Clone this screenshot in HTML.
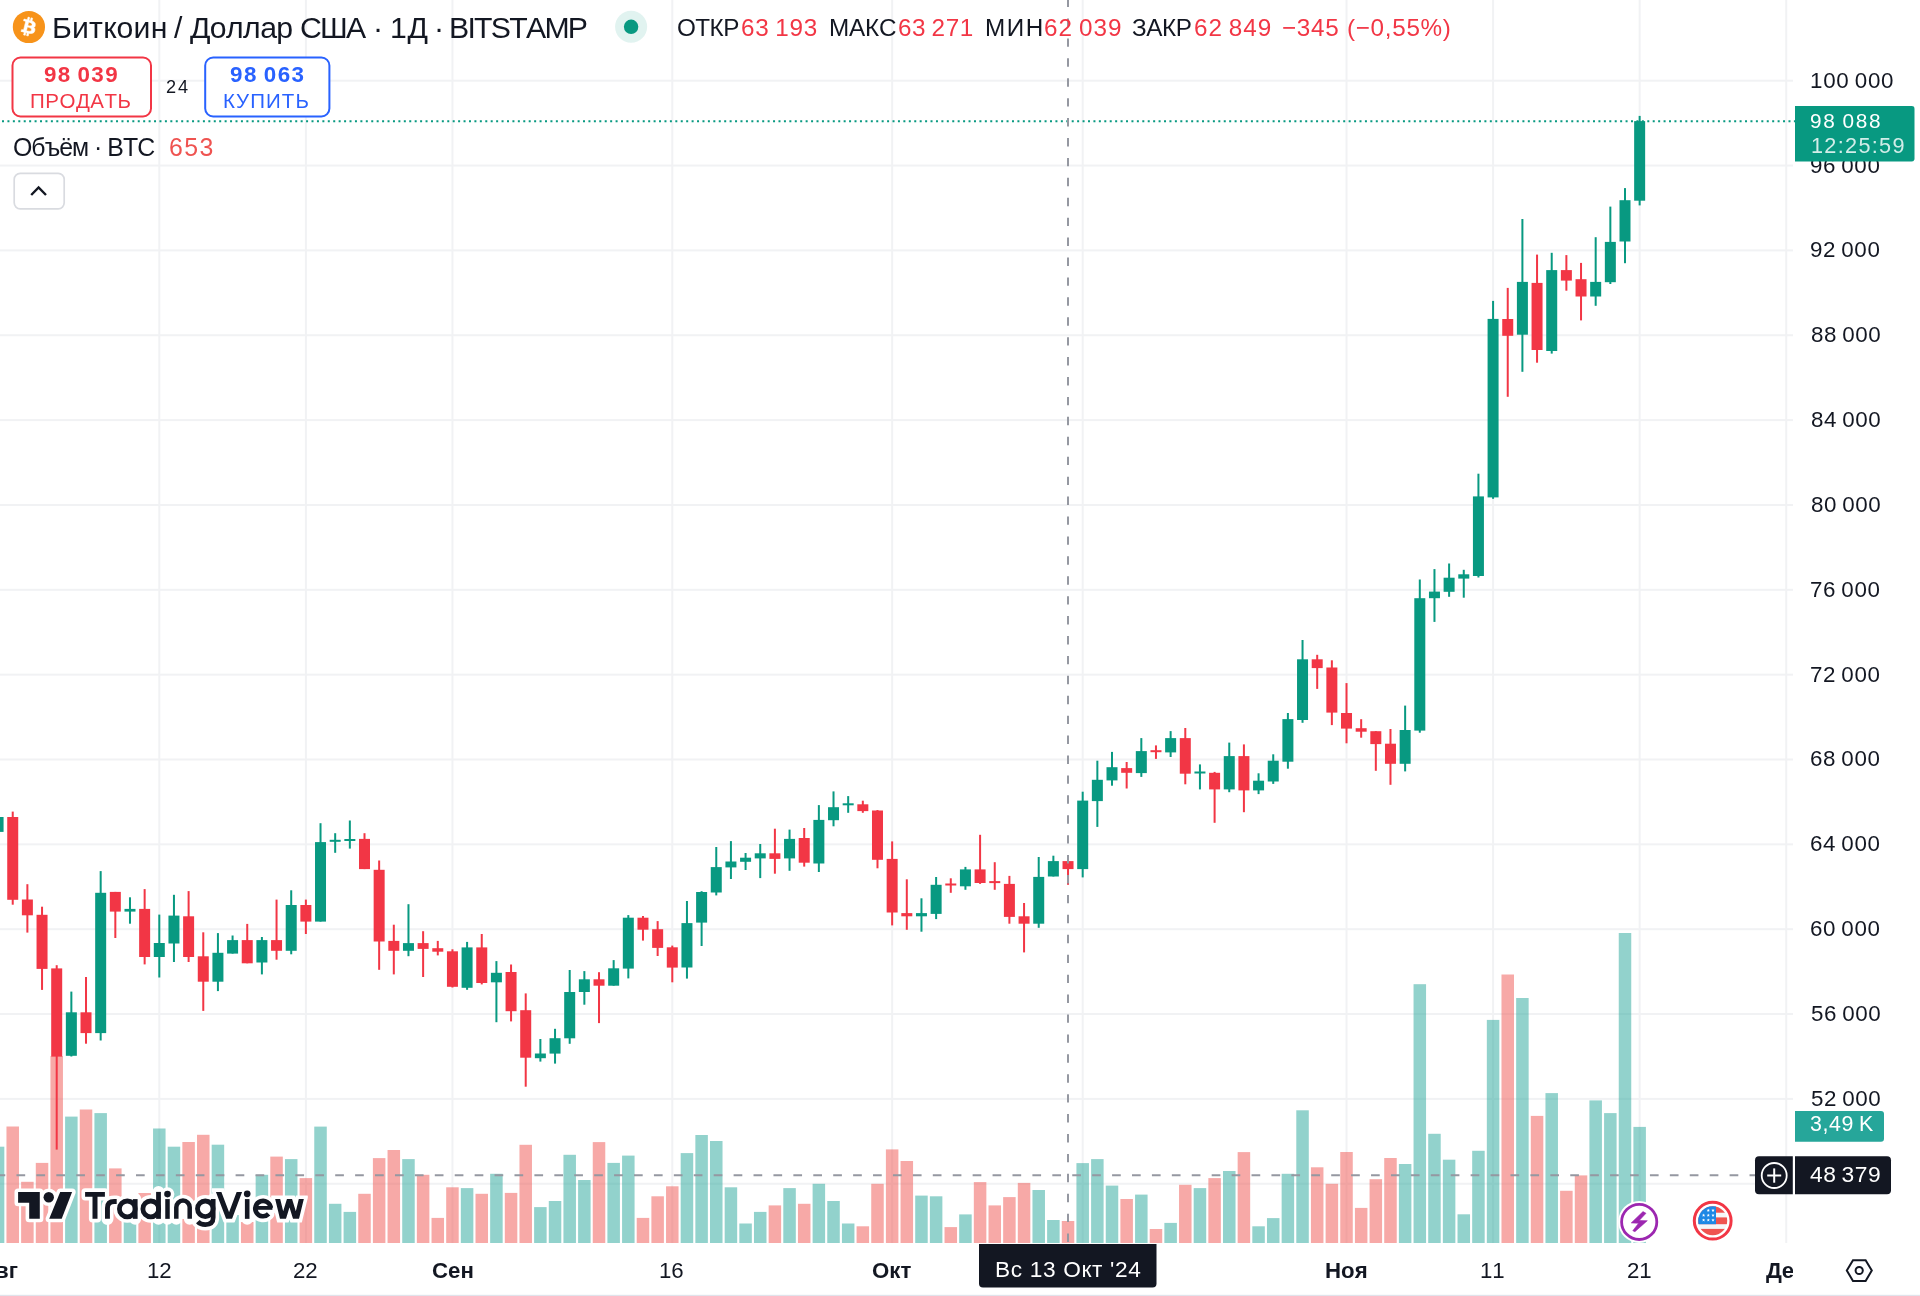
<!DOCTYPE html>
<html><head><meta charset="utf-8">
<style>
html,body{margin:0;padding:0;background:#fff;}
body{width:1920px;height:1296px;position:relative;overflow:hidden;font-family:"Liberation Sans",sans-serif;}
.chart{position:absolute;left:0;top:0;will-change:transform;}
.t{position:absolute;white-space:pre;font-kerning:none;will-change:transform;}
.box{position:absolute;}
</style></head><body>
<svg class="chart" width="1920" height="1296" viewBox="0 0 1920 1296"><rect x="0" y="79.7" width="1793" height="2" fill="#F1F2F4"/>
<rect x="0" y="164.55" width="1793" height="2" fill="#F1F2F4"/>
<rect x="0" y="249.4" width="1793" height="2" fill="#F1F2F4"/>
<rect x="0" y="334.25" width="1793" height="2" fill="#F1F2F4"/>
<rect x="0" y="419.1" width="1793" height="2" fill="#F1F2F4"/>
<rect x="0" y="503.95" width="1793" height="2" fill="#F1F2F4"/>
<rect x="0" y="588.8" width="1793" height="2" fill="#F1F2F4"/>
<rect x="0" y="673.65" width="1793" height="2" fill="#F1F2F4"/>
<rect x="0" y="758.5" width="1793" height="2" fill="#F1F2F4"/>
<rect x="0" y="843.35" width="1793" height="2" fill="#F1F2F4"/>
<rect x="0" y="928.2" width="1793" height="2" fill="#F1F2F4"/>
<rect x="0" y="1013.05" width="1793" height="2" fill="#F1F2F4"/>
<rect x="0" y="1097.9" width="1793" height="2" fill="#F1F2F4"/>
<rect x="0" y="1182.75" width="1793" height="2" fill="#F1F2F4"/>
<rect x="-2.93" y="0" width="2" height="1243" fill="#F1F2F4"/>
<rect x="158.3" y="0" width="2" height="1243" fill="#F1F2F4"/>
<rect x="304.87" y="0" width="2" height="1243" fill="#F1F2F4"/>
<rect x="451.44" y="0" width="2" height="1243" fill="#F1F2F4"/>
<rect x="671.29" y="0" width="2" height="1243" fill="#F1F2F4"/>
<rect x="891.15" y="0" width="2" height="1243" fill="#F1F2F4"/>
<rect x="1081.69" y="0" width="2" height="1243" fill="#F1F2F4"/>
<rect x="1345.51" y="0" width="2" height="1243" fill="#F1F2F4"/>
<rect x="1492.08" y="0" width="2" height="1243" fill="#F1F2F4"/>
<rect x="1638.65" y="0" width="2" height="1243" fill="#F1F2F4"/>
<rect x="1785.22" y="0" width="2" height="1243" fill="#F1F2F4"/>
<g><rect x="-8.18" y="1146.7" width="12.5" height="96.3" fill="rgba(38,166,154,0.5)"/><rect x="6.48" y="1126.5" width="12.5" height="116.5" fill="rgba(239,83,80,0.5)"/><rect x="21.13" y="1181.8" width="12.5" height="61.2" fill="rgba(239,83,80,0.5)"/><rect x="35.79" y="1162.9" width="12.5" height="80.1" fill="rgba(239,83,80,0.5)"/><rect x="50.45" y="1056" width="12.5" height="187" fill="rgba(239,83,80,0.5)"/><rect x="65.1" y="1116.6" width="12.5" height="126.4" fill="rgba(38,166,154,0.5)"/><rect x="79.76" y="1109.5" width="12.5" height="133.5" fill="rgba(239,83,80,0.5)"/><rect x="94.42" y="1113.1" width="12.5" height="129.9" fill="rgba(38,166,154,0.5)"/><rect x="109.08" y="1168.4" width="12.5" height="74.6" fill="rgba(239,83,80,0.5)"/><rect x="123.73" y="1210" width="12.5" height="33" fill="rgba(38,166,154,0.5)"/><rect x="138.39" y="1193" width="12.5" height="50" fill="rgba(239,83,80,0.5)"/><rect x="153.05" y="1128.5" width="12.5" height="114.5" fill="rgba(38,166,154,0.5)"/><rect x="167.7" y="1146.7" width="12.5" height="96.3" fill="rgba(38,166,154,0.5)"/><rect x="182.36" y="1142" width="12.5" height="101" fill="rgba(239,83,80,0.5)"/><rect x="197.02" y="1134.8" width="12.5" height="108.2" fill="rgba(239,83,80,0.5)"/><rect x="211.67" y="1144.7" width="12.5" height="98.3" fill="rgba(38,166,154,0.5)"/><rect x="226.33" y="1215" width="12.5" height="28" fill="rgba(38,166,154,0.5)"/><rect x="240.99" y="1222" width="12.5" height="21" fill="rgba(239,83,80,0.5)"/><rect x="255.65" y="1174.8" width="12.5" height="68.2" fill="rgba(38,166,154,0.5)"/><rect x="270.3" y="1156.6" width="12.5" height="86.4" fill="rgba(239,83,80,0.5)"/><rect x="284.96" y="1159.1" width="12.5" height="83.9" fill="rgba(38,166,154,0.5)"/><rect x="299.62" y="1178.1" width="12.5" height="64.9" fill="rgba(239,83,80,0.5)"/><rect x="314.27" y="1126.6" width="12.5" height="116.4" fill="rgba(38,166,154,0.5)"/><rect x="328.93" y="1203.8" width="12.5" height="39.2" fill="rgba(38,166,154,0.5)"/><rect x="343.59" y="1211.9" width="12.5" height="31.1" fill="rgba(38,166,154,0.5)"/><rect x="358.25" y="1193.8" width="12.5" height="49.2" fill="rgba(239,83,80,0.5)"/><rect x="372.9" y="1158.1" width="12.5" height="84.9" fill="rgba(239,83,80,0.5)"/><rect x="387.56" y="1150" width="12.5" height="93" fill="rgba(239,83,80,0.5)"/><rect x="402.22" y="1159.1" width="12.5" height="83.9" fill="rgba(38,166,154,0.5)"/><rect x="416.87" y="1174.8" width="12.5" height="68.2" fill="rgba(239,83,80,0.5)"/><rect x="431.53" y="1217.9" width="12.5" height="25.1" fill="rgba(239,83,80,0.5)"/><rect x="446.19" y="1187.3" width="12.5" height="55.7" fill="rgba(239,83,80,0.5)"/><rect x="460.84" y="1188.1" width="12.5" height="54.9" fill="rgba(38,166,154,0.5)"/><rect x="475.5" y="1193.8" width="12.5" height="49.2" fill="rgba(239,83,80,0.5)"/><rect x="490.16" y="1173.8" width="12.5" height="69.2" fill="rgba(38,166,154,0.5)"/><rect x="504.81" y="1192.9" width="12.5" height="50.1" fill="rgba(239,83,80,0.5)"/><rect x="519.47" y="1144.8" width="12.5" height="98.2" fill="rgba(239,83,80,0.5)"/><rect x="534.13" y="1207.1" width="12.5" height="35.9" fill="rgba(38,166,154,0.5)"/><rect x="548.79" y="1201" width="12.5" height="42" fill="rgba(38,166,154,0.5)"/><rect x="563.44" y="1154.8" width="12.5" height="88.2" fill="rgba(38,166,154,0.5)"/><rect x="578.1" y="1180" width="12.5" height="63" fill="rgba(38,166,154,0.5)"/><rect x="592.76" y="1142.1" width="12.5" height="100.9" fill="rgba(239,83,80,0.5)"/><rect x="607.41" y="1162.9" width="12.5" height="80.1" fill="rgba(38,166,154,0.5)"/><rect x="622.07" y="1155.6" width="12.5" height="87.4" fill="rgba(38,166,154,0.5)"/><rect x="636.73" y="1217.9" width="12.5" height="25.1" fill="rgba(239,83,80,0.5)"/><rect x="651.39" y="1196.3" width="12.5" height="46.7" fill="rgba(239,83,80,0.5)"/><rect x="666.04" y="1186.3" width="12.5" height="56.7" fill="rgba(239,83,80,0.5)"/><rect x="680.7" y="1153.1" width="12.5" height="89.9" fill="rgba(38,166,154,0.5)"/><rect x="695.36" y="1135" width="12.5" height="108" fill="rgba(38,166,154,0.5)"/><rect x="710.01" y="1141" width="12.5" height="102" fill="rgba(38,166,154,0.5)"/><rect x="724.67" y="1187.3" width="12.5" height="55.7" fill="rgba(38,166,154,0.5)"/><rect x="739.33" y="1223.5" width="12.5" height="19.5" fill="rgba(38,166,154,0.5)"/><rect x="753.98" y="1211.9" width="12.5" height="31.1" fill="rgba(38,166,154,0.5)"/><rect x="768.64" y="1205.4" width="12.5" height="37.6" fill="rgba(239,83,80,0.5)"/><rect x="783.3" y="1188.1" width="12.5" height="54.9" fill="rgba(38,166,154,0.5)"/><rect x="797.96" y="1203.8" width="12.5" height="39.2" fill="rgba(239,83,80,0.5)"/><rect x="812.61" y="1183.8" width="12.5" height="59.2" fill="rgba(38,166,154,0.5)"/><rect x="827.27" y="1201" width="12.5" height="42" fill="rgba(38,166,154,0.5)"/><rect x="841.93" y="1223.5" width="12.5" height="19.5" fill="rgba(38,166,154,0.5)"/><rect x="856.58" y="1226.3" width="12.5" height="16.7" fill="rgba(239,83,80,0.5)"/><rect x="871.24" y="1183.8" width="12.5" height="59.2" fill="rgba(239,83,80,0.5)"/><rect x="885.9" y="1149.4" width="12.5" height="93.6" fill="rgba(239,83,80,0.5)"/><rect x="900.55" y="1161" width="12.5" height="82" fill="rgba(239,83,80,0.5)"/><rect x="915.21" y="1195.6" width="12.5" height="47.4" fill="rgba(38,166,154,0.5)"/><rect x="929.87" y="1196.3" width="12.5" height="46.7" fill="rgba(38,166,154,0.5)"/><rect x="944.53" y="1227.1" width="12.5" height="15.9" fill="rgba(239,83,80,0.5)"/><rect x="959.18" y="1214.4" width="12.5" height="28.6" fill="rgba(38,166,154,0.5)"/><rect x="973.84" y="1182.1" width="12.5" height="60.9" fill="rgba(239,83,80,0.5)"/><rect x="988.5" y="1205.4" width="12.5" height="37.6" fill="rgba(239,83,80,0.5)"/><rect x="1003.15" y="1197.1" width="12.5" height="45.9" fill="rgba(239,83,80,0.5)"/><rect x="1017.81" y="1182.9" width="12.5" height="60.1" fill="rgba(239,83,80,0.5)"/><rect x="1032.47" y="1190" width="12.5" height="53" fill="rgba(38,166,154,0.5)"/><rect x="1047.12" y="1220" width="12.5" height="23" fill="rgba(38,166,154,0.5)"/><rect x="1061.78" y="1221" width="12.5" height="22" fill="rgba(239,83,80,0.5)"/><rect x="1076.44" y="1163.1" width="12.5" height="79.9" fill="rgba(38,166,154,0.5)"/><rect x="1091.1" y="1159.1" width="12.5" height="83.9" fill="rgba(38,166,154,0.5)"/><rect x="1105.75" y="1185.6" width="12.5" height="57.4" fill="rgba(38,166,154,0.5)"/><rect x="1120.41" y="1199" width="12.5" height="44" fill="rgba(239,83,80,0.5)"/><rect x="1135.07" y="1194.6" width="12.5" height="48.4" fill="rgba(38,166,154,0.5)"/><rect x="1149.72" y="1229" width="12.5" height="14" fill="rgba(239,83,80,0.5)"/><rect x="1164.38" y="1222.9" width="12.5" height="20.1" fill="rgba(38,166,154,0.5)"/><rect x="1179.04" y="1184.8" width="12.5" height="58.2" fill="rgba(239,83,80,0.5)"/><rect x="1193.69" y="1188.1" width="12.5" height="54.9" fill="rgba(38,166,154,0.5)"/><rect x="1208.35" y="1178.1" width="12.5" height="64.9" fill="rgba(239,83,80,0.5)"/><rect x="1223.01" y="1171" width="12.5" height="72" fill="rgba(38,166,154,0.5)"/><rect x="1237.66" y="1152.1" width="12.5" height="90.9" fill="rgba(239,83,80,0.5)"/><rect x="1252.32" y="1226.3" width="12.5" height="16.7" fill="rgba(38,166,154,0.5)"/><rect x="1266.98" y="1218.1" width="12.5" height="24.9" fill="rgba(38,166,154,0.5)"/><rect x="1281.64" y="1173.8" width="12.5" height="69.2" fill="rgba(38,166,154,0.5)"/><rect x="1296.29" y="1110.3" width="12.5" height="132.7" fill="rgba(38,166,154,0.5)"/><rect x="1310.95" y="1167.3" width="12.5" height="75.7" fill="rgba(239,83,80,0.5)"/><rect x="1325.61" y="1183.8" width="12.5" height="59.2" fill="rgba(239,83,80,0.5)"/><rect x="1340.26" y="1152" width="12.5" height="91" fill="rgba(239,83,80,0.5)"/><rect x="1354.92" y="1207.9" width="12.5" height="35.1" fill="rgba(239,83,80,0.5)"/><rect x="1369.58" y="1179.2" width="12.5" height="63.8" fill="rgba(239,83,80,0.5)"/><rect x="1384.23" y="1158" width="12.5" height="85" fill="rgba(239,83,80,0.5)"/><rect x="1398.89" y="1164" width="12.5" height="79" fill="rgba(38,166,154,0.5)"/><rect x="1413.55" y="984.2" width="12.5" height="258.8" fill="rgba(38,166,154,0.5)"/><rect x="1428.21" y="1133.8" width="12.5" height="109.2" fill="rgba(38,166,154,0.5)"/><rect x="1442.86" y="1159.7" width="12.5" height="83.3" fill="rgba(38,166,154,0.5)"/><rect x="1457.52" y="1214.3" width="12.5" height="28.7" fill="rgba(38,166,154,0.5)"/><rect x="1472.18" y="1150.8" width="12.5" height="92.2" fill="rgba(38,166,154,0.5)"/><rect x="1486.83" y="1019.9" width="12.5" height="223.1" fill="rgba(38,166,154,0.5)"/><rect x="1501.49" y="974.5" width="12.5" height="268.5" fill="rgba(239,83,80,0.5)"/><rect x="1516.15" y="998" width="12.5" height="245" fill="rgba(38,166,154,0.5)"/><rect x="1530.8" y="1115.9" width="12.5" height="127.1" fill="rgba(239,83,80,0.5)"/><rect x="1545.46" y="1093.1" width="12.5" height="149.9" fill="rgba(38,166,154,0.5)"/><rect x="1560.12" y="1190.8" width="12.5" height="52.2" fill="rgba(239,83,80,0.5)"/><rect x="1574.78" y="1175.4" width="12.5" height="67.6" fill="rgba(239,83,80,0.5)"/><rect x="1589.43" y="1100.4" width="12.5" height="142.6" fill="rgba(38,166,154,0.5)"/><rect x="1604.09" y="1113.1" width="12.5" height="129.9" fill="rgba(38,166,154,0.5)"/><rect x="1618.75" y="933" width="12.5" height="310" fill="rgba(38,166,154,0.5)"/><rect x="1633.4" y="1126.9" width="12.5" height="116.1" fill="rgba(38,166,154,0.5)"/></g>
<line x1="0" y1="121.3" x2="1795" y2="121.3" stroke="#089981" stroke-width="2" stroke-dasharray="2 3.43" stroke-dashoffset="-2"/>
<line x1="0" y1="1175.3" x2="1755" y2="1175.3" stroke="#9598A1" stroke-width="2" stroke-dasharray="8.7 11.22" stroke-dashoffset="-16.48"/>
<g><rect x="-2.93" y="810" width="2" height="30" fill="#089981"/><rect x="-7.43" y="817" width="11" height="14.9" fill="#089981"/><rect x="11.73" y="811.6" width="2" height="93.1" fill="#F23645"/><rect x="7.23" y="817" width="11" height="82.8" fill="#F23645"/><rect x="26.38" y="884.2" width="2" height="48.4" fill="#F23645"/><rect x="21.88" y="899.5" width="11" height="15.8" fill="#F23645"/><rect x="41.04" y="906.7" width="2" height="83.2" fill="#F23645"/><rect x="36.54" y="914.8" width="11" height="54.1" fill="#F23645"/><rect x="55.7" y="965.2" width="2" height="184.4" fill="#F23645"/><rect x="51.2" y="968.4" width="11" height="88.2" fill="#F23645"/><rect x="70.35" y="991.6" width="2" height="64.9" fill="#089981"/><rect x="65.85" y="1012.3" width="11" height="43.5" fill="#089981"/><rect x="85.01" y="977" width="2" height="66.7" fill="#F23645"/><rect x="80.51" y="1012.3" width="11" height="20.8" fill="#F23645"/><rect x="99.67" y="871.1" width="2" height="169.4" fill="#089981"/><rect x="95.17" y="892.8" width="11" height="140.3" fill="#089981"/><rect x="114.33" y="891.9" width="2" height="46.1" fill="#F23645"/><rect x="109.83" y="891.9" width="11" height="19.7" fill="#F23645"/><rect x="128.98" y="897.3" width="2" height="26.4" fill="#089981"/><rect x="124.48" y="908.9" width="11" height="2.7" fill="#089981"/><rect x="143.64" y="889.1" width="2" height="75.3" fill="#F23645"/><rect x="139.14" y="908.9" width="11" height="48.1" fill="#F23645"/><rect x="158.3" y="914.6" width="2" height="62.9" fill="#089981"/><rect x="153.8" y="943" width="11" height="14" fill="#089981"/><rect x="172.95" y="894.8" width="2" height="67.2" fill="#089981"/><rect x="168.45" y="915.6" width="11" height="27.9" fill="#089981"/><rect x="187.61" y="891.1" width="2" height="70.9" fill="#F23645"/><rect x="183.11" y="916.3" width="11" height="40.7" fill="#F23645"/><rect x="202.27" y="932.3" width="2" height="78.6" fill="#F23645"/><rect x="197.77" y="956.3" width="11" height="25.4" fill="#F23645"/><rect x="216.92" y="933.1" width="2" height="58" fill="#089981"/><rect x="212.42" y="952.8" width="11" height="28.9" fill="#089981"/><rect x="231.58" y="935.5" width="2" height="18.1" fill="#089981"/><rect x="227.08" y="940.1" width="11" height="13.5" fill="#089981"/><rect x="246.24" y="923.9" width="2" height="39.4" fill="#F23645"/><rect x="241.74" y="940.1" width="11" height="23.2" fill="#F23645"/><rect x="260.9" y="937" width="2" height="37.4" fill="#089981"/><rect x="256.4" y="940.1" width="11" height="22.4" fill="#089981"/><rect x="275.55" y="899.6" width="2" height="60.1" fill="#F23645"/><rect x="271.05" y="940.1" width="11" height="10.7" fill="#F23645"/><rect x="290.21" y="890.3" width="2" height="64" fill="#089981"/><rect x="285.71" y="905" width="11" height="45.8" fill="#089981"/><rect x="304.87" y="899.6" width="2" height="34.4" fill="#F23645"/><rect x="300.37" y="905" width="11" height="16.6" fill="#F23645"/><rect x="319.52" y="823.2" width="2" height="98.4" fill="#089981"/><rect x="315.02" y="842.1" width="11" height="79.5" fill="#089981"/><rect x="334.18" y="833.2" width="2" height="19.6" fill="#089981"/><rect x="329.68" y="839.8" width="11" height="2" fill="#089981"/><rect x="348.84" y="820.5" width="2" height="28.1" fill="#089981"/><rect x="344.34" y="839" width="11" height="2" fill="#089981"/><rect x="363.5" y="833.2" width="2" height="35.9" fill="#F23645"/><rect x="359" y="838.9" width="11" height="30.2" fill="#F23645"/><rect x="378.15" y="860.5" width="2" height="109.3" fill="#F23645"/><rect x="373.65" y="869.8" width="11" height="71.7" fill="#F23645"/><rect x="392.81" y="924.7" width="2" height="49.7" fill="#F23645"/><rect x="388.31" y="940.9" width="11" height="9.9" fill="#F23645"/><rect x="407.47" y="904.2" width="2" height="52" fill="#089981"/><rect x="402.97" y="943.1" width="11" height="7.7" fill="#089981"/><rect x="422.12" y="931.2" width="2" height="45.8" fill="#F23645"/><rect x="417.62" y="943.1" width="11" height="5.8" fill="#F23645"/><rect x="436.78" y="940.9" width="2" height="14.5" fill="#F23645"/><rect x="432.28" y="948.2" width="11" height="3.5" fill="#F23645"/><rect x="451.44" y="949.3" width="2" height="38.2" fill="#F23645"/><rect x="446.94" y="951.3" width="11" height="35.5" fill="#F23645"/><rect x="466.09" y="941.9" width="2" height="47.9" fill="#089981"/><rect x="461.59" y="947.4" width="11" height="40.4" fill="#089981"/><rect x="480.75" y="934" width="2" height="50.4" fill="#F23645"/><rect x="476.25" y="947.4" width="11" height="35.6" fill="#F23645"/><rect x="495.41" y="961.1" width="2" height="61.1" fill="#089981"/><rect x="490.91" y="972.8" width="11" height="9.5" fill="#089981"/><rect x="510.06" y="964.5" width="2" height="56.9" fill="#F23645"/><rect x="505.56" y="972" width="11" height="39.2" fill="#F23645"/><rect x="524.72" y="993.4" width="2" height="93.3" fill="#F23645"/><rect x="520.22" y="1010.2" width="11" height="47.5" fill="#F23645"/><rect x="539.38" y="1039" width="2" height="22.6" fill="#089981"/><rect x="534.88" y="1053.5" width="11" height="4.7" fill="#089981"/><rect x="554.04" y="1028.8" width="2" height="34.8" fill="#089981"/><rect x="549.54" y="1038.2" width="11" height="15.4" fill="#089981"/><rect x="568.69" y="970" width="2" height="73.8" fill="#089981"/><rect x="564.19" y="992" width="11" height="46.3" fill="#089981"/><rect x="583.35" y="971.1" width="2" height="33.6" fill="#089981"/><rect x="578.85" y="979.3" width="11" height="12.7" fill="#089981"/><rect x="598.01" y="972.2" width="2" height="50.9" fill="#F23645"/><rect x="593.51" y="979.3" width="11" height="6.4" fill="#F23645"/><rect x="612.66" y="960.1" width="2" height="25.6" fill="#089981"/><rect x="608.16" y="968.3" width="11" height="17.4" fill="#089981"/><rect x="627.32" y="915.1" width="2" height="63.3" fill="#089981"/><rect x="622.82" y="917.7" width="11" height="50.9" fill="#089981"/><rect x="641.98" y="916" width="2" height="24.6" fill="#F23645"/><rect x="637.48" y="917.7" width="11" height="12" fill="#F23645"/><rect x="656.64" y="921.1" width="2" height="34.9" fill="#F23645"/><rect x="652.14" y="929.2" width="11" height="18.7" fill="#F23645"/><rect x="671.29" y="945.6" width="2" height="36.7" fill="#F23645"/><rect x="666.79" y="947.3" width="11" height="20.3" fill="#F23645"/><rect x="685.95" y="901" width="2" height="77.6" fill="#089981"/><rect x="681.45" y="923.1" width="11" height="44.4" fill="#089981"/><rect x="700.61" y="891.2" width="2" height="54.8" fill="#089981"/><rect x="696.11" y="892" width="11" height="30.6" fill="#089981"/><rect x="715.26" y="847" width="2" height="48.4" fill="#089981"/><rect x="710.76" y="867.1" width="11" height="25.4" fill="#089981"/><rect x="729.92" y="841.1" width="2" height="37.9" fill="#089981"/><rect x="725.42" y="861.5" width="11" height="5.9" fill="#089981"/><rect x="744.58" y="853" width="2" height="17" fill="#089981"/><rect x="740.08" y="857.7" width="11" height="4.1" fill="#089981"/><rect x="759.23" y="844" width="2" height="34.1" fill="#089981"/><rect x="754.73" y="853.3" width="11" height="5.1" fill="#089981"/><rect x="773.89" y="828.7" width="2" height="45" fill="#F23645"/><rect x="769.39" y="853.3" width="11" height="5.6" fill="#F23645"/><rect x="788.55" y="829.6" width="2" height="41.2" fill="#089981"/><rect x="784.05" y="838.9" width="11" height="19.5" fill="#089981"/><rect x="803.21" y="828" width="2" height="38.6" fill="#F23645"/><rect x="798.71" y="838" width="11" height="24.7" fill="#F23645"/><rect x="817.86" y="805.1" width="2" height="66.9" fill="#089981"/><rect x="813.36" y="819.9" width="11" height="43.6" fill="#089981"/><rect x="832.52" y="791.4" width="2" height="34.9" fill="#089981"/><rect x="828.02" y="807.2" width="11" height="13" fill="#089981"/><rect x="847.18" y="796.1" width="2" height="16.7" fill="#089981"/><rect x="842.68" y="803.3" width="11" height="2" fill="#089981"/><rect x="861.83" y="800.7" width="2" height="12.1" fill="#F23645"/><rect x="857.33" y="804.3" width="11" height="6.8" fill="#F23645"/><rect x="876.49" y="810" width="2" height="58.3" fill="#F23645"/><rect x="871.99" y="810.5" width="11" height="49.3" fill="#F23645"/><rect x="891.15" y="841.4" width="2" height="84" fill="#F23645"/><rect x="886.65" y="858.9" width="11" height="53.6" fill="#F23645"/><rect x="905.8" y="879.3" width="2" height="50.5" fill="#F23645"/><rect x="901.3" y="913.1" width="11" height="3.2" fill="#F23645"/><rect x="920.46" y="898.3" width="2" height="33.4" fill="#089981"/><rect x="915.96" y="913.1" width="11" height="3.2" fill="#089981"/><rect x="935.12" y="877" width="2" height="42.1" fill="#089981"/><rect x="930.62" y="884.8" width="11" height="29.1" fill="#089981"/><rect x="949.78" y="878.3" width="2" height="14.5" fill="#F23645"/><rect x="945.28" y="883.5" width="11" height="2" fill="#F23645"/><rect x="964.43" y="866.9" width="2" height="22.9" fill="#089981"/><rect x="959.93" y="869.4" width="11" height="16.9" fill="#089981"/><rect x="979.09" y="834.8" width="2" height="49.1" fill="#F23645"/><rect x="974.59" y="869.4" width="11" height="13.6" fill="#F23645"/><rect x="993.75" y="862.2" width="2" height="27.6" fill="#F23645"/><rect x="989.25" y="881.1" width="11" height="2" fill="#F23645"/><rect x="1008.4" y="875.9" width="2" height="47.8" fill="#F23645"/><rect x="1003.9" y="883.9" width="11" height="33" fill="#F23645"/><rect x="1023.06" y="903" width="2" height="49.4" fill="#F23645"/><rect x="1018.56" y="916.3" width="11" height="7.4" fill="#F23645"/><rect x="1037.72" y="857" width="2" height="70.8" fill="#089981"/><rect x="1033.22" y="876.9" width="11" height="46.8" fill="#089981"/><rect x="1052.37" y="855.7" width="2" height="20.8" fill="#089981"/><rect x="1047.87" y="861.1" width="11" height="15.4" fill="#089981"/><rect x="1067.03" y="861.1" width="2" height="23.7" fill="#F23645"/><rect x="1062.53" y="861.1" width="11" height="8" fill="#F23645"/><rect x="1081.69" y="791.7" width="2" height="85.7" fill="#089981"/><rect x="1077.19" y="800.6" width="11" height="68.5" fill="#089981"/><rect x="1096.35" y="760.7" width="2" height="66.2" fill="#089981"/><rect x="1091.85" y="779.8" width="11" height="21.3" fill="#089981"/><rect x="1111" y="751.9" width="2" height="33.8" fill="#089981"/><rect x="1106.5" y="767.2" width="11" height="13.2" fill="#089981"/><rect x="1125.66" y="762" width="2" height="26.5" fill="#F23645"/><rect x="1121.16" y="768.1" width="11" height="4.7" fill="#F23645"/><rect x="1140.32" y="738.1" width="2" height="38.8" fill="#089981"/><rect x="1135.82" y="751.1" width="11" height="22" fill="#089981"/><rect x="1154.97" y="745.4" width="2" height="13.5" fill="#F23645"/><rect x="1150.47" y="750.2" width="11" height="2" fill="#F23645"/><rect x="1169.63" y="731.1" width="2" height="25.9" fill="#089981"/><rect x="1165.13" y="738.1" width="11" height="14.3" fill="#089981"/><rect x="1184.29" y="728" width="2" height="56.3" fill="#F23645"/><rect x="1179.79" y="738.1" width="11" height="35.6" fill="#F23645"/><rect x="1198.94" y="764.4" width="2" height="25" fill="#089981"/><rect x="1194.44" y="771.5" width="11" height="2" fill="#089981"/><rect x="1213.6" y="771.9" width="2" height="50.9" fill="#F23645"/><rect x="1209.1" y="772.8" width="11" height="16.6" fill="#F23645"/><rect x="1228.26" y="742.6" width="2" height="49.6" fill="#089981"/><rect x="1223.76" y="756.1" width="11" height="33.3" fill="#089981"/><rect x="1242.91" y="744.4" width="2" height="67.8" fill="#F23645"/><rect x="1238.41" y="756.1" width="11" height="34.3" fill="#F23645"/><rect x="1257.57" y="773.3" width="2" height="20.8" fill="#089981"/><rect x="1253.07" y="780.7" width="11" height="9.7" fill="#089981"/><rect x="1272.23" y="754.3" width="2" height="29.6" fill="#089981"/><rect x="1267.73" y="760.7" width="11" height="20.8" fill="#089981"/><rect x="1286.89" y="713" width="2" height="55.7" fill="#089981"/><rect x="1282.39" y="719.1" width="11" height="42.6" fill="#089981"/><rect x="1301.54" y="640" width="2" height="82.8" fill="#089981"/><rect x="1297.04" y="659.3" width="11" height="60.7" fill="#089981"/><rect x="1316.2" y="654.8" width="2" height="34.1" fill="#F23645"/><rect x="1311.7" y="659.3" width="11" height="8.8" fill="#F23645"/><rect x="1330.86" y="660.3" width="2" height="64.8" fill="#F23645"/><rect x="1326.36" y="667.5" width="11" height="45.1" fill="#F23645"/><rect x="1345.51" y="683.1" width="2" height="60.2" fill="#F23645"/><rect x="1341.01" y="713" width="11" height="15.6" fill="#F23645"/><rect x="1360.17" y="719.2" width="2" height="18.5" fill="#F23645"/><rect x="1355.67" y="728.2" width="11" height="3.5" fill="#F23645"/><rect x="1374.83" y="731.2" width="2" height="39.6" fill="#F23645"/><rect x="1370.33" y="731.2" width="11" height="12.9" fill="#F23645"/><rect x="1389.48" y="729" width="2" height="55.8" fill="#F23645"/><rect x="1384.98" y="743.7" width="11" height="20.1" fill="#F23645"/><rect x="1404.14" y="705.6" width="2" height="65.8" fill="#089981"/><rect x="1399.64" y="730" width="11" height="33.8" fill="#089981"/><rect x="1418.8" y="579.5" width="2" height="153.2" fill="#089981"/><rect x="1414.3" y="598.2" width="11" height="132.4" fill="#089981"/><rect x="1433.46" y="569.1" width="2" height="52.8" fill="#089981"/><rect x="1428.96" y="591.6" width="11" height="6.6" fill="#089981"/><rect x="1448.11" y="563.5" width="2" height="33.3" fill="#089981"/><rect x="1443.61" y="577.7" width="11" height="14.1" fill="#089981"/><rect x="1462.77" y="569.8" width="2" height="27.9" fill="#089981"/><rect x="1458.27" y="574.3" width="11" height="4.3" fill="#089981"/><rect x="1477.43" y="473.7" width="2" height="103.8" fill="#089981"/><rect x="1472.93" y="496.4" width="11" height="79.6" fill="#089981"/><rect x="1492.08" y="300.9" width="2" height="197.9" fill="#089981"/><rect x="1487.58" y="318.9" width="11" height="178.5" fill="#089981"/><rect x="1506.74" y="287.9" width="2" height="108.9" fill="#F23645"/><rect x="1502.24" y="319" width="11" height="16.8" fill="#F23645"/><rect x="1521.4" y="219" width="2" height="152.8" fill="#089981"/><rect x="1516.9" y="281.9" width="11" height="52.8" fill="#089981"/><rect x="1536.05" y="254.6" width="2" height="108.1" fill="#F23645"/><rect x="1531.55" y="282.9" width="11" height="67.1" fill="#F23645"/><rect x="1550.71" y="252.8" width="2" height="100.8" fill="#089981"/><rect x="1546.21" y="270.1" width="11" height="80.9" fill="#089981"/><rect x="1565.37" y="255.1" width="2" height="35.6" fill="#F23645"/><rect x="1560.87" y="270.1" width="11" height="10.5" fill="#F23645"/><rect x="1580.03" y="262.9" width="2" height="57.5" fill="#F23645"/><rect x="1575.53" y="279.2" width="11" height="17.3" fill="#F23645"/><rect x="1594.68" y="237.2" width="2" height="68.6" fill="#089981"/><rect x="1590.18" y="281.9" width="11" height="14.6" fill="#089981"/><rect x="1609.34" y="206.6" width="2" height="77.4" fill="#089981"/><rect x="1604.84" y="241.9" width="11" height="40.3" fill="#089981"/><rect x="1624" y="188.1" width="2" height="75.1" fill="#089981"/><rect x="1619.5" y="200.2" width="11" height="41.3" fill="#089981"/><rect x="1638.65" y="115.9" width="2" height="89.5" fill="#089981"/><rect x="1634.15" y="121.1" width="11" height="79.6" fill="#089981"/></g>
<line x1="1068" y1="0" x2="1068" y2="1243" stroke="#9598A1" stroke-width="2" stroke-dasharray="8.4 11.52" stroke-dashoffset="1.45"/></svg>
<svg class="chart" width="1920" height="1296" viewBox="0 0 1920 1296">
<!-- bitcoin icon -->
<circle cx="28.9" cy="27" r="16.1" fill="#F7931A"/>
<g transform="translate(28.7 27.1) scale(0.47) translate(-32 -32.3)">
<path fill="#fff" stroke="#fff" stroke-width="1.2" stroke-linejoin="round" d="M46.1,27.4c0.6-4.3-2.6-6.6-7.1-8.1l1.4-5.8l-3.5-0.9l-1.4,5.7c-0.9-0.2-1.9-0.4-2.8-0.7l1.4-5.7l-3.5-0.9l-1.4,5.8c-0.8-0.2-1.5-0.3-2.3-0.5l0,0l-4.9-1.2l-0.9,3.8c0,0,2.6,0.6,2.6,0.6c1.4,0.4,1.7,1.3,1.6,2.1l-1.6,6.5c0.1,0,0.2,0.1,0.4,0.1c-0.1,0-0.2-0.1-0.4-0.1l-2.3,9.1c-0.2,0.4-0.6,1.1-1.6,0.8c0,0.1-2.6-0.6-2.6-0.6l-1.7,4l4.6,1.1c0.9,0.2,1.7,0.4,2.5,0.6l-1.5,5.8l3.5,0.9l1.4-5.8c1,0.3,1.9,0.5,2.8,0.7l-1.4,5.7l3.5,0.9l1.5-5.8c6,1.1,10.5,0.7,12.4-4.7c1.5-4.4-0.1-6.9-3.2-8.5C44.1,33.6,45.8,32.1,46.1,27.4z M38.1,38.6c-1.1,4.4-8.4,2-10.8,1.4l1.9-7.7C31.600,32.9,39.2,34.1,38.1,38.6z M39.2,27.3c-1,4-7.1,2-9.1,1.5l1.7-7C33.8,22.3,40.2,23.2,39.2,27.3z"/>
</g>
<!-- status dot -->
<circle cx="631.1" cy="26.8" r="16" fill="rgba(8,153,129,0.12)"/>
<circle cx="631.1" cy="26.8" r="7.2" fill="#089981"/>
<!-- sell / buy buttons -->
<rect x="12.5" y="57.5" width="138.5" height="59" rx="8" ry="8" fill="#fff" stroke="#F23645" stroke-width="2"/>
<rect x="205.2" y="57.5" width="124.2" height="59" rx="8" ry="8" fill="#fff" stroke="#2962FF" stroke-width="2"/>
<!-- collapse button -->
<rect x="14.2" y="173.3" width="50" height="35.5" rx="6" ry="6" fill="#fff" stroke="#D9DBE0" stroke-width="1.7"/>
<polyline points="31.2,195 38.6,187.5 46,195" fill="none" stroke="#131722" stroke-width="2.4" stroke-linecap="butt" stroke-linejoin="miter"/>
<!-- settings hexagon -->
<polygon points="1846.8,1270.5 1853,1260.2 1865.6,1260.2 1871.8,1270.5 1865.6,1280.9 1853,1280.9" fill="none" stroke="#131722" stroke-width="2" stroke-linejoin="miter"/>
<circle cx="1859.2" cy="1270.5" r="3.6" fill="none" stroke="#131722" stroke-width="2"/>
<!-- bottom border -->
<rect x="0" y="1294.8" width="1920" height="1.2" fill="#E0E3EB"/>
</svg>

<div class="t" style="left:51.72px;top:12.8px;font-size:30.23px;line-height:30.23px;letter-spacing:0.2px;color:#131722;">Биткоин</div>
<div class="t" style="left:174.2px;top:12.8px;font-size:30.23px;line-height:30.23px;letter-spacing:0px;color:#131722;">/</div>
<div class="t" style="left:189.78px;top:12.8px;font-size:30.23px;line-height:30.23px;letter-spacing:-0.6px;color:#131722;">Доллар</div>
<div class="t" style="left:300.36px;top:12.8px;font-size:30.23px;line-height:30.23px;letter-spacing:-1.71px;color:#131722;">США</div>
<div class="t" style="left:373.31px;top:12.8px;font-size:30.23px;line-height:30.23px;letter-spacing:0px;color:#131722;">·</div>
<div class="t" style="left:389.6px;top:12.8px;font-size:30.23px;line-height:30.23px;letter-spacing:0.77px;color:#131722;">1Д</div>
<div class="t" style="left:434.21px;top:12.8px;font-size:30.23px;line-height:30.23px;letter-spacing:0px;color:#131722;">·</div>
<div class="t" style="left:449.42px;top:12.8px;font-size:30.23px;line-height:30.23px;letter-spacing:-1.73px;color:#131722;">BITSTAMP</div>
<div class="t" style="left:676.55px;top:15.7px;font-size:24.27px;line-height:24.27px;letter-spacing:-0.54px;color:#131722;">ОТКР</div>
<div class="t" style="left:741.47px;top:15.7px;font-size:24.27px;line-height:24.27px;letter-spacing:0.79px;color:#F23645;">63 193</div>
<div class="t" style="left:828.81px;top:15.7px;font-size:24.27px;line-height:24.27px;letter-spacing:-0.19px;color:#131722;">МАКС</div>
<div class="t" style="left:898.37px;top:15.7px;font-size:24.27px;line-height:24.27px;letter-spacing:0.59px;color:#F23645;">63 271</div>
<div class="t" style="left:985.01px;top:15.7px;font-size:24.27px;line-height:24.27px;letter-spacing:1.49px;color:#131722;">МИН</div>
<div class="t" style="left:1043.57px;top:15.7px;font-size:24.27px;line-height:24.27px;letter-spacing:1.02px;color:#F23645;">62 039</div>
<div class="t" style="left:1132.21px;top:15.7px;font-size:24.27px;line-height:24.27px;letter-spacing:-0.37px;color:#131722;">ЗАКР</div>
<div class="t" style="left:1194.07px;top:15.7px;font-size:24.27px;line-height:24.27px;letter-spacing:0.96px;color:#F23645;">62 849</div>
<div class="t" style="left:1281.6px;top:15.7px;font-size:24.27px;line-height:24.27px;letter-spacing:0.7px;color:#F23645;">−345 (−0,55%)</div>
<div class="t" style="left:44.42px;top:64.15px;font-size:22.38px;line-height:22.38px;letter-spacing:1.38px;color:#F23645;font-weight:bold;">98 039</div>
<div class="t" style="left:30.24px;top:91.05px;font-size:20.49px;line-height:20.49px;letter-spacing:0.53px;color:#F23645;">ПРОДАТЬ</div>
<div class="t" style="left:166.39px;top:77.62px;font-size:18.17px;line-height:18.17px;letter-spacing:1.94px;color:#131722;">24</div>
<div class="t" style="left:229.92px;top:64.15px;font-size:22.38px;line-height:22.38px;letter-spacing:1.47px;color:#2962FF;font-weight:bold;">98 063</div>
<div class="t" style="left:223.22px;top:91.05px;font-size:20.49px;line-height:20.49px;letter-spacing:1.11px;color:#2962FF;">КУПИТЬ</div>
<div class="t" style="left:12.57px;top:134.86px;font-size:24.86px;line-height:24.86px;letter-spacing:-0.97px;color:#131722;">Объём · BTC</div>
<div class="t" style="left:169.34px;top:134.86px;font-size:24.86px;line-height:24.86px;letter-spacing:1.39px;color:#EF5350;">653</div>
<div class="t" style="left:1809.79px;top:69.65px;font-size:22.38px;line-height:22.38px;letter-spacing:0.73px;color:#131722;">100 000</div>
<div class="t" style="left:1810.45px;top:154.5px;font-size:22.38px;line-height:22.38px;letter-spacing:0.64px;color:#131722;">96 000</div>
<div class="t" style="left:1810.45px;top:239.35px;font-size:22.38px;line-height:22.38px;letter-spacing:0.64px;color:#131722;">92 000</div>
<div class="t" style="left:1810.53px;top:324.2px;font-size:22.38px;line-height:22.38px;letter-spacing:0.62px;color:#131722;">88 000</div>
<div class="t" style="left:1810.53px;top:409.05px;font-size:22.38px;line-height:22.38px;letter-spacing:0.62px;color:#131722;">84 000</div>
<div class="t" style="left:1810.53px;top:493.9px;font-size:22.38px;line-height:22.38px;letter-spacing:0.62px;color:#131722;">80 000</div>
<div class="t" style="left:1810.35px;top:578.75px;font-size:22.38px;line-height:22.38px;letter-spacing:0.66px;color:#131722;">76 000</div>
<div class="t" style="left:1810.35px;top:663.6px;font-size:22.38px;line-height:22.38px;letter-spacing:0.66px;color:#131722;">72 000</div>
<div class="t" style="left:1810.36px;top:748.45px;font-size:22.38px;line-height:22.38px;letter-spacing:0.66px;color:#131722;">68 000</div>
<div class="t" style="left:1810.36px;top:833.3px;font-size:22.38px;line-height:22.38px;letter-spacing:0.66px;color:#131722;">64 000</div>
<div class="t" style="left:1810.36px;top:918.15px;font-size:22.38px;line-height:22.38px;letter-spacing:0.66px;color:#131722;">60 000</div>
<div class="t" style="left:1810.6px;top:1003px;font-size:22.38px;line-height:22.38px;letter-spacing:0.61px;color:#131722;">56 000</div>
<div class="t" style="left:1810.6px;top:1087.85px;font-size:22.38px;line-height:22.38px;letter-spacing:0.61px;color:#131722;">52 000</div>
<div class="t" style="left:1810.99px;top:1172.7px;font-size:22.38px;line-height:22.38px;letter-spacing:0.53px;color:#131722;">48 000</div>
<div class="t" style="left:146.74px;top:1260.47px;font-size:22.24px;line-height:22.24px;letter-spacing:-0px;color:#131722;">12</div>
<div class="t" style="left:293.13px;top:1260.47px;font-size:22.24px;line-height:22.24px;letter-spacing:0px;color:#131722;">22</div>
<div class="t" style="left:431.59px;top:1260.47px;font-size:22.24px;line-height:22.24px;letter-spacing:0px;color:#131722;font-weight:bold;">Сен</div>
<div class="t" style="left:658.97px;top:1260.47px;font-size:22.24px;line-height:22.24px;letter-spacing:0px;color:#131722;">16</div>
<div class="t" style="left:872.09px;top:1260.47px;font-size:22.24px;line-height:22.24px;letter-spacing:-0px;color:#131722;font-weight:bold;">Окт</div>
<div class="t" style="left:1324.92px;top:1260.47px;font-size:22.24px;line-height:22.24px;letter-spacing:-0px;color:#131722;font-weight:bold;">Ноя</div>
<div class="t" style="left:1479.83px;top:1260.47px;font-size:22.24px;line-height:22.24px;letter-spacing:0px;color:#131722;">11</div>
<div class="t" style="left:1626.62px;top:1260.47px;font-size:22.24px;line-height:22.24px;letter-spacing:0px;color:#131722;">21</div>
<svg class="chart" width="1920" height="1296" viewBox="0 0 1920 1296">
<!-- 98088 price label -->
<path d="M1795,106 H1911.5 A3,3 0 0 1 1914.5,109 V158.5 A3,3 0 0 1 1911.5,161.5 H1795 Z" fill="#089981"/>
<!-- 3,49K label -->
<path d="M1795,1111.1 H1881 A3,3 0 0 1 1884,1114.1 V1138.8 A3,3 0 0 1 1881,1141.8 H1795 Z" fill="#26A69A"/>
<!-- 48379 crosshair label -->
<path d="M1759,1156.3 H1792.8 V1194.3 H1759 A4,4 0 0 1 1755,1190.3 V1160.3 A4,4 0 0 1 1759,1156.3 Z" fill="#131722"/>
<path d="M1795,1156.3 H1887 A4,4 0 0 1 1891,1160.3 V1190.3 A4,4 0 0 1 1887,1194.3 H1795 Z" fill="#131722"/>
<circle cx="1774.2" cy="1175.5" r="12.5" fill="none" stroke="#fff" stroke-width="1.8"/>
<rect x="1767.2" y="1174.5" width="14" height="2" fill="#fff"/>
<rect x="1773.2" y="1168.4" width="2" height="14.3" fill="#fff"/>
<!-- time crosshair label -->
<path d="M979,1244 H1156.5 V1283.6 A4,4 0 0 1 1152.5,1287.6 H983 A4,4 0 0 1 979,1283.6 Z" fill="#131722"/>
</svg>

<div class="t" style="left:1809.83px;top:110.7px;font-size:20.79px;line-height:20.79px;letter-spacing:1.7px;color:#FFFFFF;">98 088</div>
<div class="t" style="left:1810.75px;top:135.46px;font-size:21.66px;line-height:21.66px;letter-spacing:1.31px;color:rgba(255,255,255,0.82);">12:25:59</div>
<div class="t" style="left:1810.19px;top:1113.81px;font-size:21.37px;line-height:21.37px;letter-spacing:0.61px;color:#FFFFFF;">3,49 K</div>
<div class="t" style="left:1809.98px;top:1163.48px;font-size:22.82px;line-height:22.82px;letter-spacing:0.56px;color:#FFFFFF;">48 379</div>
<div class="t" style="left:994.54px;top:1257.8px;font-size:22.67px;line-height:22.67px;letter-spacing:0.65px;color:#FFFFFF;">Вс 13 Окт '24</div>
<div style="position:absolute;left:0px;top:1250px;width:1793px;height:45px;overflow:hidden;"><div class="t" style="left:-21.41px;top:10.47px;font-size:22.24px;line-height:22.24px;letter-spacing:0px;color:#131722;font-weight:bold;">Авг</div></div>
<div style="position:absolute;left:0px;top:1250px;width:1793px;height:45px;overflow:hidden;"><div class="t" style="left:1766.45px;top:10.47px;font-size:22.24px;line-height:22.24px;letter-spacing:-0px;color:#131722;font-weight:bold;">Дек</div></div>
<svg class="chart" width="1920" height="1296" viewBox="0 0 1920 1296">
<!-- TradingView logo -->
<defs><clipPath id="lcV"><rect x="200" y="1191.90" width="60" height="26.95"/></clipPath><clipPath id="lcW"><rect x="260" y="1199.10" width="60" height="19.75"/></clipPath><clipPath id="lcVh"><rect x="200" y="1188.3" width="60" height="34.2"/></clipPath><clipPath id="lcWh"><rect x="260" y="1195.5" width="60" height="27"/></clipPath></defs>
<g><path d="M18.1,1192.1 H39.8 V1218.75 H29.2 V1202.7 H18.1 Z" fill="#fff" stroke="#fff" stroke-width="7.2" stroke-linejoin="round"/><circle cx="48.75" cy="1197.3" r="5.2" fill="#fff" stroke="#fff" stroke-width="7.2" stroke-linejoin="round"/><path d="M60.2,1192.1 H72.1 L61.7,1218.75 H49.2 Z" fill="#fff" stroke="#fff" stroke-width="7.2" stroke-linejoin="round"/><path d="M85.1,1191.90 H104.9 V1196.8 H97.5 V1218.85 H92.5 V1196.8 H85.1 Z" fill="#fff" stroke="#fff" stroke-width="7.2" stroke-linejoin="round"/><path d="M107.45,1218.85 V1208 Q107.45,1201.55 114.2,1201.55 H116.7" fill="none" stroke="#fff" stroke-width="12.10" stroke-linejoin="round" stroke-linecap="round"/><circle cx="127.3" cy="1208.9" r="7.9" fill="#fff" stroke="#fff" stroke-width="12.00" stroke-linejoin="round" stroke-linecap="round"/><path d="M135.2,1199.10 V1218.85" fill="none" stroke="#fff" stroke-width="12.00" stroke-linejoin="round" stroke-linecap="round"/><circle cx="150.8" cy="1208.9" r="7.9" fill="#fff" stroke="#fff" stroke-width="12.00" stroke-linejoin="round" stroke-linecap="round"/><path d="M158.5,1191.90 V1218.85" fill="none" stroke="#fff" stroke-width="12.00" stroke-linejoin="round" stroke-linecap="round"/><path d="M167.5,1199.10 V1218.85" fill="none" stroke="#fff" stroke-width="11.70" stroke-linejoin="round" stroke-linecap="round"/><circle cx="167.5" cy="1194.1" r="3.3" fill="#fff" stroke="#fff" stroke-width="7.2" stroke-linejoin="round"/><rect x="177" y="1204" width="12" height="15" fill="#fff"/><path d="M176.3,1218.85 V1207.3 A6.7,6.7 0 0 1 189.7,1207.3 V1218.85" fill="none" stroke="#fff" stroke-width="11.70" stroke-linejoin="round" stroke-linecap="round"/><circle cx="205.3" cy="1208.8" r="7.8" fill="#fff" stroke="#fff" stroke-width="12.00" stroke-linejoin="round" stroke-linecap="round"/><path d="M213.2,1199.10 V1217.5 Q213.2,1224.5 205.3,1224.6 Q200.4,1224.6 197.8,1221.6" fill="none" stroke="#fff" stroke-width="11.90" stroke-linejoin="round" stroke-linecap="round"/><path d="M217.9,1190 L229.1,1219.5 L240.1,1190" clip-path="url(#lcVh)" fill="none" stroke="#fff" stroke-width="12.30" stroke-linejoin="round" stroke-linecap="round"/><path d="M247.2,1199.10 V1218.85" fill="none" stroke="#fff" stroke-width="11.80" stroke-linejoin="round" stroke-linecap="round"/><circle cx="247.2" cy="1193.8" r="3.35" fill="#fff" stroke="#fff" stroke-width="7.2" stroke-linejoin="round"/><circle cx="263" cy="1208.5" r="7.7" fill="#fff"/><path d="M270.7,1208.0 A7.7,7.7 0 1 0 268.6,1213.9" fill="none" stroke="#fff" stroke-width="11.80" stroke-linejoin="round" stroke-linecap="round"/><path d="M255.4,1207.9 H272.4" fill="none" stroke="#fff" stroke-width="11.00" stroke-linejoin="round" stroke-linecap="round"/><path d="M277.2,1197 L282.9,1220.5 L289.5,1199 L296.1,1220.5 L301.8,1197" clip-path="url(#lcWh)" stroke-linejoin="miter" stroke-miterlimit="10" fill="none" stroke="#fff" stroke-width="12.10" stroke-linejoin="round" stroke-linecap="round"/></g>
<g><path d="M18.1,1192.1 H39.8 V1218.75 H29.2 V1202.7 H18.1 Z" fill="#131722"/><circle cx="48.75" cy="1197.3" r="5.2" fill="#131722"/><path d="M60.2,1192.1 H72.1 L61.7,1218.75 H49.2 Z" fill="#131722"/><path d="M85.1,1191.90 H104.9 V1196.8 H97.5 V1218.85 H92.5 V1196.8 H85.1 Z" fill="#131722"/><path d="M107.45,1218.85 V1208 Q107.45,1201.55 114.2,1201.55 H116.7" fill="none" stroke="#131722" stroke-width="4.90"/><circle cx="127.3" cy="1208.9" r="7.9" fill="none" stroke="#131722" stroke-width="4.80"/><path d="M135.2,1199.10 V1218.85" fill="none" stroke="#131722" stroke-width="4.80"/><circle cx="150.8" cy="1208.9" r="7.9" fill="none" stroke="#131722" stroke-width="4.80"/><path d="M158.5,1191.90 V1218.85" fill="none" stroke="#131722" stroke-width="4.80"/><path d="M167.5,1199.10 V1218.85" fill="none" stroke="#131722" stroke-width="4.50"/><circle cx="167.5" cy="1194.1" r="3.3" fill="#131722"/><path d="M176.3,1218.85 V1207.3 A6.7,6.7 0 0 1 189.7,1207.3 V1218.85" fill="none" stroke="#131722" stroke-width="4.50"/><circle cx="205.3" cy="1208.8" r="7.8" fill="none" stroke="#131722" stroke-width="4.80"/><path d="M213.2,1199.10 V1217.5 Q213.2,1224.5 205.3,1224.6 Q200.4,1224.6 197.8,1221.6" fill="none" stroke="#131722" stroke-width="4.70"/><path d="M217.9,1190 L229.1,1219.5 L240.1,1190" clip-path="url(#lcV)" fill="none" stroke="#131722" stroke-width="5.10"/><path d="M247.2,1199.10 V1218.85" fill="none" stroke="#131722" stroke-width="4.60"/><circle cx="247.2" cy="1193.8" r="3.35" fill="#131722"/><path d="M270.7,1208.0 A7.7,7.7 0 1 0 268.6,1213.9" fill="none" stroke="#131722" stroke-width="4.60"/><path d="M255.4,1207.9 H272.4" fill="none" stroke="#131722" stroke-width="3.80"/><path d="M277.2,1197 L282.9,1220.5 L289.5,1199 L296.1,1220.5 L301.8,1197" clip-path="url(#lcW)" stroke-linejoin="miter" stroke-miterlimit="10" fill="none" stroke="#131722" stroke-width="4.90"/></g>
<!-- lightning icon -->
<circle cx="1639.2" cy="1221.9" r="21" fill="#fff"/>
<circle cx="1639.2" cy="1221.9" r="17.6" fill="#fff" stroke="#9C27B0" stroke-width="2.8"/>
<polygon points="1643,1211.6 1646,1213.3 1639.2,1220.5 1647.3,1220.7 1634.9,1231.7 1632.8,1230.7 1638.6,1223.2 1631.2,1222.9" fill="#9C27B0" stroke="#9C27B0" stroke-width="0.6" stroke-linejoin="round"/>
<!-- US flag icon -->
<circle cx="1712.7" cy="1220.7" r="21" fill="#fff"/>
<circle cx="1712.7" cy="1220.7" r="18.4" fill="#fff" stroke="#F23645" stroke-width="3"/>
<defs><clipPath id="fc"><circle cx="1712.7" cy="1220.7" r="14.5"/></clipPath></defs>
<g clip-path="url(#fc)">
<rect x="1698" y="1206" width="30" height="30" fill="#F5F6F8"/>
<rect x="1698" y="1206" width="30" height="6.7" fill="#EF5350"/>
<rect x="1698" y="1217.4" width="30" height="6.8" fill="#EF5350"/>
<rect x="1698" y="1228.9" width="30" height="7" fill="#EF5350"/>
<rect x="1698" y="1206" width="18" height="18.2" fill="#1E88E5"/>
<g fill="#fff"><polygon points="1708.30,1208.70 1708.75,1209.78 1709.92,1209.87 1709.03,1210.64 1709.30,1211.78 1708.30,1211.17 1707.30,1211.78 1707.57,1210.64 1706.68,1209.87 1707.85,1209.78"/><polygon points="1713.00,1208.70 1713.45,1209.78 1714.62,1209.87 1713.73,1210.64 1714.00,1211.78 1713.00,1211.17 1712.00,1211.78 1712.27,1210.64 1711.38,1209.87 1712.55,1209.78"/><polygon points="1703.60,1213.60 1704.05,1214.68 1705.22,1214.77 1704.33,1215.54 1704.60,1216.68 1703.60,1216.07 1702.60,1216.68 1702.87,1215.54 1701.98,1214.77 1703.15,1214.68"/><polygon points="1708.30,1213.60 1708.75,1214.68 1709.92,1214.77 1709.03,1215.54 1709.30,1216.68 1708.30,1216.07 1707.30,1216.68 1707.57,1215.54 1706.68,1214.77 1707.85,1214.68"/><polygon points="1713.00,1213.60 1713.45,1214.68 1714.62,1214.77 1713.73,1215.54 1714.00,1216.68 1713.00,1216.07 1712.00,1216.68 1712.27,1215.54 1711.38,1214.77 1712.55,1214.68"/><polygon points="1703.60,1218.40 1704.05,1219.48 1705.22,1219.57 1704.33,1220.34 1704.60,1221.48 1703.60,1220.87 1702.60,1221.48 1702.87,1220.34 1701.98,1219.57 1703.15,1219.48"/><polygon points="1708.30,1218.40 1708.75,1219.48 1709.92,1219.57 1709.03,1220.34 1709.30,1221.48 1708.30,1220.87 1707.30,1221.48 1707.57,1220.34 1706.68,1219.57 1707.85,1219.48"/><polygon points="1713.00,1218.40 1713.45,1219.48 1714.62,1219.57 1713.73,1220.34 1714.00,1221.48 1713.00,1220.87 1712.00,1221.48 1712.27,1220.34 1711.38,1219.57 1712.55,1219.48"/></g>
</g>
</svg>

</body></html>
